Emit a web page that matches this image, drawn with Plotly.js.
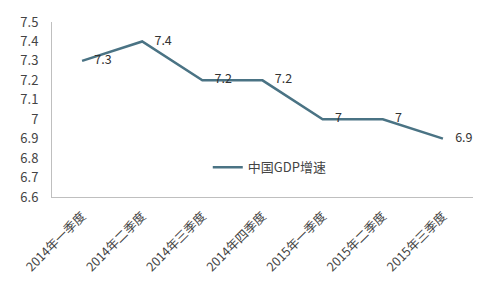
<!DOCTYPE html>
<html>
<head>
<meta charset="utf-8">
<script src="https://cdn.plot.ly/plotly-3.0.1.min.js"></script>
<style>html,body{margin:0;padding:0;background:#fff;}#chart{width:491px;height:289px;}</style>
</head>
<body>
<div id="chart"></div>
<script>
const categories = ["2014年一季度","2014年二季度","2014年三季度","2014年四季度","2015年一季度","2015年二季度","2015年三季度"];
const gdpGrowth = [7.3, 7.4, 7.2, 7.2, 7.0, 7.0, 6.9];
const valueLabels = ["7.3","7.4","7.2","7.2","7","7","6.9"];
const yTickVals = [6.6,6.7,6.8,6.9,7.0,7.1,7.2,7.3,7.4,7.5];
const yTickText = ["6.6","6.7","6.8","6.9","7","7.1","7.2","7.3","7.4","7.5"];

const font = "Noto Sans CJK SC, DejaVu Sans, sans-serif";
const lineTrace = {
  x: categories,
  y: gdpGrowth,
  type: "scatter",
  mode: "lines",
  name: "中国GDP增速",
  line: {color: "#4a7384", width: 2.5}
};
const labelTrace = {
  x: categories,
  y: gdpGrowth,
  type: "scatter",
  mode: "markers+text",
  showlegend: false,
  text: valueLabels,
  textposition: "middle right",
  textfont: {family: font, size: 12.5, color: "#333"},
  marker: {size: 18, opacity: 0, color: "#4a7384"},
  cliponaxis: false
};
const layout = {
  width: 491, height: 289,
  margin: {l: 52, r: 18, t: 22, b: 92},
  paper_bgcolor: "#fff", plot_bgcolor: "#fff",
  font: {family: font, size: 12, color: "#444"},
  showlegend: true,
  legend: {x: 0.37, y: 0.17, xanchor: "left", yanchor: "middle", bgcolor: "rgba(0,0,0,0)", font: {family: font, size: 13, color: "#444"}},
  xaxis: {
    type: "category",
    tickangle: -45,
    showline: true, linecolor: "#bfbfbf", linewidth: 1,
    showgrid: false, zeroline: false, ticks: "",
    ticklabelstandoff: 6,
    tickfont: {family: font, size: 12.5, color: "#444"},
    range: [-0.5, 6.5]
  },
  yaxis: {
    range: [6.6, 7.5],
    tickvals: yTickVals, ticktext: yTickText,
    showline: true, linecolor: "#bfbfbf", linewidth: 1,
    showgrid: false, zeroline: false, ticks: "",
    ticklabelstandoff: 10,
    tickfont: {family: font, size: 13, color: "#444"}
  }
};
Plotly.newPlot("chart", [lineTrace, labelTrace], layout, {displayModeBar: false, staticPlot: true});
</script>
</body>
</html>
